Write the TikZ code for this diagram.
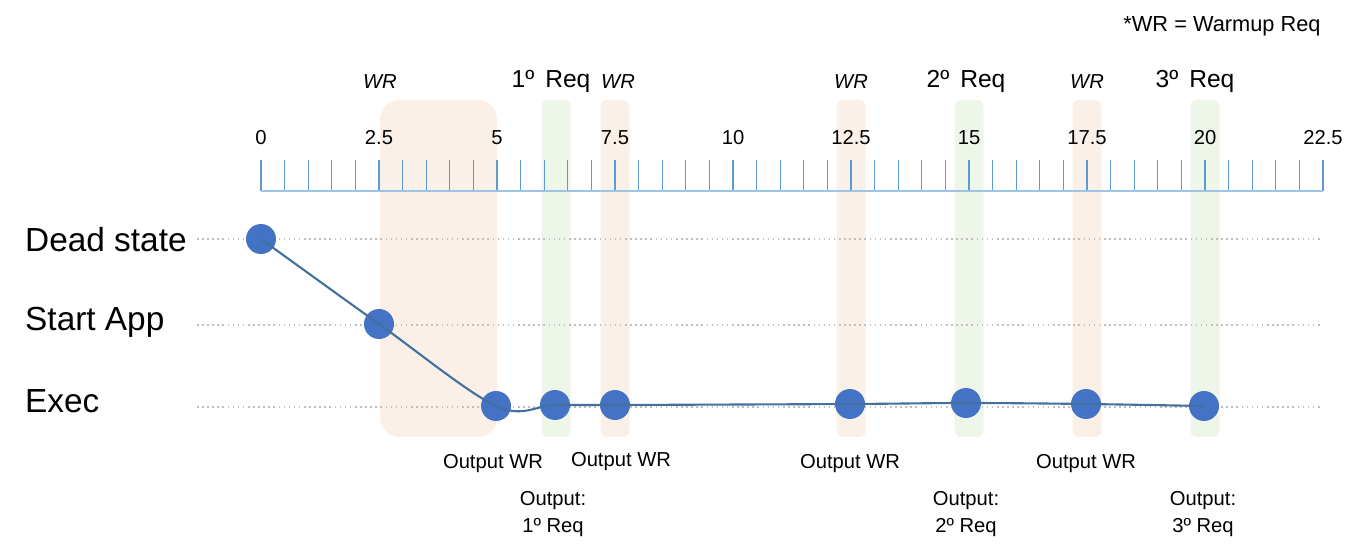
\documentclass[tikz,border=0pt]{standalone}
\usepackage{fontspec}
\setmainfont{Liberation Sans}
\definecolor{wrfill}{HTML}{FBF0E8}
\definecolor{reqfill}{HTML}{EEF6EA}
\definecolor{tickblue}{HTML}{5B9BD5}
\definecolor{axisblue}{HTML}{9DC3E6}
\definecolor{dotblue}{HTML}{4472C4}
\definecolor{lineblue}{HTML}{41719C}
\begin{document}
\begin{tikzpicture}[x=0.02cm, y=-0.02cm,
  wrband/.style={fill=wrfill, rounded corners=3.5pt},
  reqband/.style={fill=reqfill, rounded corners=3.5pt},
  tick/.style={draw=tickblue, line width=0.6pt},
  guide/.style={draw=black!25, dotted, line width=0.9pt},
  dot/.style={circle, fill=dotblue, minimum size=0.6cm, inner sep=0pt},
  curve/.style={draw=lineblue, line width=1.2pt},
  rowlabel/.style={anchor=west, font=\fontsize{19}{22}\selectfont},
  ticklabel/.style={font=\fontsize{11.5}{13}\selectfont},
  wrlabel/.style={font=\fontsize{11.5}{13}\selectfont\itshape},
  reqlabel/.style={font=\fontsize{14}{16}\selectfont},
  outlabel/.style={align=center, font=\fontsize{11.5}{15}\selectfont}]
  \useasboundingbox (0,0) rectangle (1355,553);
  % bands
  \fill[wrfill, rounded corners=11pt] (380,100) rectangle (497,437);
  \foreach \t in {7.5,12.5,17.5}
    \path[wrband] ({261+47.2*\t-14.5},100) rectangle ({261+47.2*\t+14.5},437);
  \foreach \t in {6.25,15,20}
    \path[reqband] ({261+47.2*\t-14.5},100) rectangle ({261+47.2*\t+14.5},437);
  % time axis
  \foreach \t in {0,0.5,...,22.5}
    \draw[tick] ({261+47.2*\t},160) -- ({261+47.2*\t},191);
  \draw[axisblue, line width=1pt] (261,191) -- (1323,191);
  \foreach \t in {0,2.5,5,7.5,10,12.5,15,17.5,20,22.5}
    \node[ticklabel] at ({261+47.2*\t},138) {\t};
  \node[font=\fontsize{12.4}{14}\selectfont] (legend) at (1222,26) {*WR = Warmup Req};
  \node[wrlabel] (wr0) at (380,82) {WR};
  \node[reqlabel] (req1) at (551,81) {1º\hspace{0.45em}Req};
  \node[wrlabel] (wr1) at (618,82) {WR};
  \node[wrlabel] (wr2) at (851,82) {WR};
  \node[reqlabel] (req2) at (966,81) {2º\hspace{0.45em}Req};
  \node[wrlabel] (wr3) at (1087,82) {WR};
  \node[reqlabel] (req3) at (1195,81) {3º\hspace{0.45em}Req};
  % states
  \node[rowlabel] (dead) at (19,240) {Dead state};
  \node[rowlabel] (start) at (19,322) {Start App};
  \node[rowlabel] (exec) at (19,401) {Exec};
  \draw[guide] (197,239) -- (1323,239);
  \draw[guide] (197,325) -- (1323,325);
  \draw[guide] (197,407) -- (1323,407);
  \node[dot] (d0) at (261,239) {};
  \node[dot] (d1) at (379,324) {};
  \node[dot] (d2) at (496,406) {};
  \node[dot] (d3) at (555,405) {};
  \node[dot] (d4) at (615,405) {};
  \node[dot] (d5) at (850,404) {};
  \node[dot] (d6) at (966,403) {};
  \node[dot] (d7) at (1086,404) {};
  \node[dot] (d8) at (1204,406) {};
  \draw[curve] plot[smooth, tension=0.55] coordinates {(d0) (d1) (d2) (d3) (d4) (d5) (d6) (d7) (d8)};
  % outputs
  \node[outlabel] (o1) at (493,464) {Output WR};
  \node[outlabel] (o2) at (621,462) {Output WR};
  \node[outlabel] (o3) at (850,464) {Output WR};
  \node[outlabel] (o4) at (1086,464) {Output WR};
  \node[outlabel] (r1) at (553,514) {Output:\\1º Req};
  \node[outlabel] (r2) at (966,514) {Output:\\2º Req};
  \node[outlabel] (r3) at (1203,514) {Output:\\3º Req};
\end{tikzpicture}
\end{document}
